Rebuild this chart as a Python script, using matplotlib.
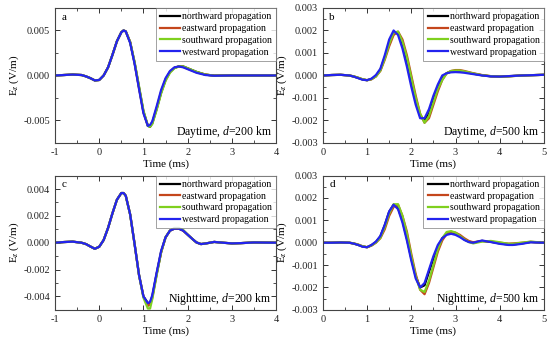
import matplotlib
matplotlib.use("Agg")
import matplotlib.pyplot as plt
from matplotlib.ticker import AutoMinorLocator, MultipleLocator, FormatStrFormatter

plt.rcParams['font.family'] = ['Liberation Serif', 'DejaVu Serif']
plt.rcParams['mathtext.fontset'] = 'custom'
plt.rcParams['mathtext.rm'] = 'Liberation Serif'
plt.rcParams['mathtext.it'] = 'Liberation Serif:italic'
plt.rcParams['axes.unicode_minus'] = False

labels = ["northward propagation", "eastward propagation",
          "southward propagation", "westward propagation"]
colors = ["#000000", "#c4461c", "#7fd01e", "#2323ee"]

# ---- panel a : Daytime, d=200 km ----
t_a = [-1.0, -0.8, -0.6, -0.4, -0.3, -0.2, -0.1, 0.0, 0.1, 0.2, 0.3, 0.4, 0.5, 0.55, 0.6, 0.7,
       0.8, 0.9, 1.0, 1.1, 1.15, 1.2, 1.3, 1.4, 1.5, 1.6, 1.7, 1.8, 1.9, 2.0, 2.2, 2.4, 2.6,
       3.0, 3.5, 4.0]
north_a = [0, 0.00005, 0.0001, 0.00005, -0.0001, -0.0003, -0.00055, -0.0005, 0.0, 0.0009, 0.0023,
           0.0038, 0.0048, 0.005, 0.0049, 0.0037, 0.0014, -0.0013, -0.0040, -0.0056, -0.0057,
           -0.0053, -0.0037, -0.0019, -0.0005, 0.0004, 0.00085, 0.001, 0.001, 0.0008, 0.0004,
           0.0001, -0.00002, 0.0, 0.0, 0.0]
east_a = [0, 0.00005, 0.0001, 0.00005, -0.0001, -0.0003, -0.00055, -0.0005, 0.0, 0.0009, 0.0023,
          0.0038, 0.0048, 0.005, 0.0049, 0.0037, 0.0014, -0.0014, -0.0041, -0.0056, -0.0056,
          -0.0052, -0.0036, -0.0018, -0.0004, 0.0004, 0.00085, 0.001, 0.00095, 0.00075, 0.00035,
          0.0001, -0.00002, 0.0, 0.0, 0.0]
south_a = [0, 0.00005, 0.0001, 0.00005, -0.0001, -0.0003, -0.00055, -0.0005, 0.0, 0.0009, 0.0023,
           0.0038, 0.0048, 0.005, 0.0049, 0.0037, 0.0015, -0.0012, -0.0039, -0.0056, -0.0057,
           -0.0054, -0.0038, -0.0020, -0.0006, 0.0003, 0.0008, 0.001, 0.001, 0.0008, 0.0004,
           0.0001, -0.00002, 0.0, 0.0, 0.0]
west_a = [0, 0.00005, 0.0001, 0.00005, -0.0001, -0.0003, -0.00055, -0.0005, 0.0, 0.0009, 0.0023,
          0.0038, 0.0048, 0.005, 0.0049, 0.0036, 0.0013, -0.0015, -0.0042, -0.0056, -0.0055,
          -0.0051, -0.0034, -0.0016, -0.0003, 0.0005, 0.0009, 0.001, 0.0009, 0.0007, 0.0003,
          0.00005, -0.00003, 0.0, 0.0, 0.0]

# ---- panel b : Daytime, d=500 km ----
t_b = [0, 0.2, 0.4, 0.6, 0.7, 0.8, 0.9, 1.0, 1.1, 1.2, 1.3, 1.4, 1.5, 1.6, 1.7, 1.8, 1.9, 2.0,
       2.1, 2.2, 2.3, 2.4, 2.5, 2.6, 2.7, 2.8, 2.9, 3.0, 3.1, 3.2, 3.4, 3.6, 3.8, 4.0, 4.2, 4.5, 5.0]
north_b = [0, 0.00002, 0.00003, 0.0, -0.00005, -0.00011, -0.00018, -0.00021, -0.00016, -0.00003,
           0.00025, 0.0008, 0.0014, 0.0019, 0.0019, 0.0014, 0.0006, -0.0003, -0.0011, -0.0018,
           -0.0020, -0.0017, -0.0011, -0.0005, -0.0001, 0.0001, 0.00018, 0.0002, 0.0002, 0.00016,
           0.00008, 0.00001, -0.00004, -0.00005, -0.00003, 0.0, 0.00003]
east_b = [0, 0.00002, 0.00003, 0.0, -0.00004, -0.0001, -0.00017, -0.00021, -0.00017, -0.00004,
          0.0002, 0.0007, 0.0013, 0.0018, 0.00195, 0.0016, 0.0009, 0.0, -0.0009, -0.0017, -0.0021,
          -0.0019, -0.0013, -0.0007, -0.0002, 0.0001, 0.0002, 0.00024, 0.00024, 0.0002, 0.0001,
          0.00002, -0.00003, -0.00005, -0.00004, 0.0, 0.00003]
south_b = [0, 0.00002, 0.00003, 0.0, -0.00004, -0.0001, -0.00017, -0.00021, -0.00016, -0.00004,
           0.00022, 0.00075, 0.0014, 0.0019, 0.00195, 0.0015, 0.0008, -0.0001, -0.001, -0.0017,
           -0.0021, -0.0018, -0.0012, -0.0006, -0.0002, 0.0001, 0.0002, 0.00022, 0.00022, 0.00018,
           0.00009, 0.00001, -0.00003, -0.00005, -0.00004, 0.0, 0.00003]
west_b = [0, 0.00002, 0.00003, 0.0, -0.00005, -0.00012, -0.00019, -0.00021, -0.00014, 0.00002,
          0.0003, 0.0009, 0.0016, 0.002, 0.0018, 0.0012, 0.0004, -0.0005, -0.0013, -0.0019,
          -0.0019, -0.0015, -0.0009, -0.0004, 0.0, 0.0001, 0.00014, 0.00015, 0.00014, 0.00012,
          0.00006, 0.0, -0.00004, -0.00005, -0.00003, 0.0, 0.00003]

# ---- panel c : Nighttime, d=200 km ----
t_c = [-1.0, -0.8, -0.6, -0.4, -0.3, -0.2, -0.1, 0.0, 0.1, 0.2, 0.3, 0.4, 0.5, 0.55, 0.6, 0.7,
       0.8, 0.9, 1.0, 1.1, 1.15, 1.2, 1.3, 1.4, 1.5, 1.6, 1.7, 1.8, 1.9, 2.0, 2.1, 2.2, 2.3, 2.4,
       2.6, 2.8, 3.0, 3.2, 3.5, 4.0]
north_c = [0, 0.00005, 0.00008, 0.0, -0.0001, -0.00028, -0.00045, -0.0003, 0.0002, 0.0011, 0.0022,
           0.0032, 0.0037, 0.0037, 0.0035, 0.0021, -0.0001, -0.0024, -0.0040, -0.0045, -0.0045,
           -0.0040, -0.0023, -0.0007, 0.0004, 0.0009, 0.00105, 0.00105, 0.0009, 0.0006, 0.0003,
           0.00002, -0.0001, -0.00006, 0.00006, 0.0, -0.00005, -0.00003, 0.00002, 0.0]
east_c = [0, 0.00005, 0.00008, 0.0, -0.0001, -0.00028, -0.00045, -0.0003, 0.0002, 0.0011, 0.0022,
          0.0032, 0.0037, 0.0037, 0.0035, 0.0021, -0.0001, -0.0024, -0.0040, -0.0047, -0.0046,
          -0.0041, -0.0023, -0.0007, 0.0004, 0.0009, 0.00105, 0.00105, 0.0009, 0.0006, 0.0003,
          0.00002, -0.0001, -0.00006, 0.00006, 0.0, -0.00005, -0.00003, 0.00002, 0.0]
south_c = [0, 0.00005, 0.00008, 0.0, -0.0001, -0.00028, -0.00045, -0.0003, 0.0002, 0.0011, 0.0022,
           0.0032, 0.0037, 0.0037, 0.0035, 0.0021, -0.0001, -0.0024, -0.0041, -0.0049, -0.0049,
           -0.0042, -0.0024, -0.0007, 0.0004, 0.0009, 0.0011, 0.0011, 0.00095, 0.0006, 0.0003,
           0.00002, -0.0001, -0.00006, 0.00006, 0.0, -0.00005, -0.00003, 0.00002, 0.0]
west_c = [0, 0.00005, 0.00008, 0.0, -0.0001, -0.00028, -0.00045, -0.0003, 0.0002, 0.0011, 0.0022,
          0.0032, 0.0037, 0.0037, 0.0035, 0.0021, -0.0001, -0.0024, -0.0040, -0.0045, -0.0044,
          -0.0039, -0.0022, -0.0006, 0.0004, 0.0009, 0.00105, 0.00105, 0.0009, 0.0006, 0.0003,
          0.00002, -0.0001, -0.00006, 0.00006, 0.0, -0.00005, -0.00003, 0.00002, 0.0]

# ---- panel d : Nighttime, d=500 km ----
t_d = [0, 0.2, 0.4, 0.6, 0.7, 0.8, 0.9, 1.0, 1.1, 1.2, 1.3, 1.4, 1.5, 1.6, 1.7, 1.8, 1.9, 2.0,
       2.1, 2.2, 2.3, 2.4, 2.5, 2.6, 2.7, 2.8, 2.9, 3.0, 3.1, 3.2, 3.3, 3.4, 3.6, 3.8, 4.0, 4.2,
       4.3, 4.5, 4.7, 5.0]
north_d = [0, 0.0, 0.00001, 0.0, -0.00004, -0.0001, -0.00017, -0.0002, -0.00011, 0.00003, 0.00028,
           0.00078, 0.00138, 0.0017, 0.00155, 0.001, 0.0002, -0.0007, -0.0015, -0.002, -0.0019,
           -0.0013, -0.0007, -0.0002, 0.0002, 0.0004, 0.00045, 0.0004, 0.0003, 0.00015, 0.00005,
           0.0, 0.00008, 0.00004, -0.00003, -0.00008, -0.00008, -0.00003, 0.00003, 0.0]
east_d = [0, 0.0, 0.00001, 0.0, -0.00003, -0.00008, -0.00016, -0.0002, -0.00013, 0.0, 0.0002,
          0.0006, 0.0012, 0.0016, 0.0017, 0.0012, 0.0005, -0.0005, -0.0014, -0.0021, -0.0023,
          -0.0018, -0.0011, -0.0004, 0.0001, 0.0004, 0.00048, 0.00045, 0.00035, 0.0002, 0.00008,
          0.00002, 0.00008, 0.00005, 0.0, -0.00004, -0.00003, 0.0, 0.00004, 0.0]
south_d = [0, 0.0, 0.00001, 0.0, -0.00003, -0.00009, -0.00016, -0.0002, -0.00012, 0.00001, 0.00022,
           0.0007, 0.0013, 0.00172, 0.00172, 0.0012, 0.0004, -0.0006, -0.0015, -0.0021, -0.0022,
           -0.0017, -0.001, -0.0003, 0.0002, 0.00048, 0.00052, 0.00045, 0.0003, 0.00015, 0.00003,
           -0.00003, 0.00005, 0.00008, 0.00002, -0.00005, -0.00005, 0.0, 0.00005, 0.0]
west_d = [0, 0.0, 0.00001, 0.0, -0.00004, -0.0001, -0.00018, -0.0002, -0.0001, 0.00005, 0.0003,
          0.0008, 0.0014, 0.0017, 0.0015, 0.0009, 0.0001, -0.0008, -0.0016, -0.002, -0.0018,
          -0.0012, -0.0006, -0.0001, 0.0002, 0.00035, 0.0004, 0.00035, 0.00025, 0.00012, 0.00003,
          0.0, 0.0001, 0.00003, -0.00005, -0.0001, -0.0001, -0.00005, 0.00002, 0.0]

panels = [
    dict(t=t_a, ys=[north_a, east_a, south_a, west_a], xlim=(-1, 4), ylim=(-0.0075, 0.0075),
         ymaj=0.005, letter="a", note="Daytime, $d$=200 km"),
    dict(t=t_b, ys=[north_b, east_b, south_b, west_b], xlim=(0, 5), ylim=(-0.003, 0.003),
         ymaj=0.001, letter="b", note="Daytime, $d$=500 km"),
    dict(t=t_c, ys=[north_c, east_c, south_c, west_c], xlim=(-1, 4), ylim=(-0.005, 0.005),
         ymaj=0.002, letter="c", note="Nighttime, $d$=200 km"),
    dict(t=t_d, ys=[north_d, east_d, south_d, west_d], xlim=(0, 5), ylim=(-0.003, 0.003),
         ymaj=0.001, letter="d", note="Nighttime, $d$=500 km"),
]

fig = plt.figure(figsize=(5.5, 3.47), dpi=100)
rects = [
    (0.100, 0.588, 0.402, 0.389),
    (0.587, 0.588, 0.402, 0.389),
    (0.100, 0.107, 0.402, 0.387),
    (0.587, 0.107, 0.402, 0.387),
]

for p, r in zip(panels, rects):
    ax = fig.add_axes(r)
    for y, c, lab in zip(p["ys"], colors, labels):
        ax.plot(p["t"], y, color=c, lw=1.6, label=lab)
    ax.set_xlim(*p["xlim"])
    ax.set_ylim(*p["ylim"])
    ax.xaxis.set_major_locator(MultipleLocator(1))
    ax.xaxis.set_minor_locator(AutoMinorLocator(2))
    ax.yaxis.set_major_locator(MultipleLocator(p["ymaj"]))
    ax.yaxis.set_minor_locator(AutoMinorLocator(2))
    ax.yaxis.set_major_formatter(FormatStrFormatter("%.3f"))
    ax.tick_params(which="both", direction="in", top=True, right=True, labelsize=7.5,
                   colors="#333333", labelcolor="#222222")
    ax.tick_params(which="major", length=3.5, width=0.7)
    ax.tick_params(which="minor", length=2, width=0.6)
    for s in ax.spines.values():
        s.set_linewidth(0.8)
        s.set_color("#444444")
    ax.set_xlabel("Time (ms)", fontsize=8, labelpad=2)
    ax.set_ylabel("E$_z$ (V/m)", fontsize=8, labelpad=2)
    leg = ax.legend(loc="upper right", fontsize=7, frameon=True, fancybox=False,
                    borderaxespad=0.0, handlelength=2.1, handletextpad=0.15,
                    labelspacing=0.28, borderpad=0.45)
    leg.get_frame().set_edgecolor("#777777")
    leg.get_frame().set_linewidth(0.6)
    ax.text(0.03, 0.93, p["letter"], transform=ax.transAxes, fontsize=8, va="center", ha="left")
    ax.text(0.98, 0.08, p["note"], transform=ax.transAxes, fontsize=8.5, va="center", ha="right")

fig.savefig("out.png", dpi=100)
